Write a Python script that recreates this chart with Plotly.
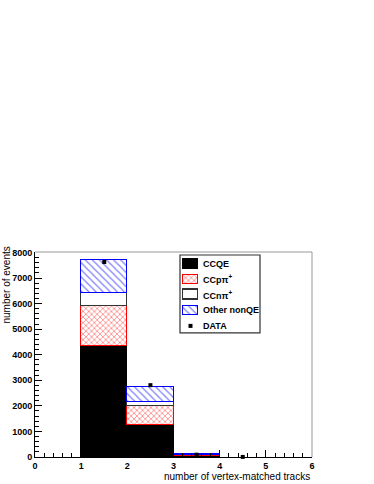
import plotly.graph_objects as go

mc_bin_centers = [1.5, 2.5, 3.5]
ccqe = [4350, 1260, 20]
ccppi = [1540, 740, 50]
ccnpi = [510, 150, 5]
other = [1300, 570, 55]

data_bin_centers = [1.5, 2.5, 3.5, 4.5]
data_vals = [7630, 2810, 90, 3]

x_ticks = [0, 1, 2, 3, 4, 5, 6]
y_ticks = [0, 1000, 2000, 3000, 4000, 5000, 6000, 7000, 8000]

legend_labels = ["CCQE", "CCpπ<sup>+</sup>", "CCnπ<sup>+</sup>", "Other nonQE", "DATA"]

FONT = "Liberation Sans"

# styles
ccqe_marker = dict(color="black", line=dict(color="black", width=1))
ccppi_marker = dict(color="white", line=dict(color="red", width=1.2),
                    pattern=dict(shape="x", fgcolor="red", bgcolor="white",
                                 size=4, solidity=0.35))
ccnpi_marker = dict(color="white", line=dict(color="#333333", width=1.5))
other_marker = dict(color="white", line=dict(color="blue", width=1.2),
                    pattern=dict(shape="\\", fgcolor="blue", bgcolor="white",
                                 size=5, solidity=0.25))
styles = [ccqe_marker, ccppi_marker, ccnpi_marker, other_marker]

fig = go.Figure()
for vals, st, name in zip([ccqe, ccppi, ccnpi, other], styles, legend_labels[:4]):
    fig.add_trace(go.Bar(x=mc_bin_centers, y=vals, width=1, name=name, marker=st,
                         showlegend=False))
fig.add_trace(go.Scatter(x=data_bin_centers, y=data_vals, mode="markers", name="DATA",
                         cliponaxis=False, showlegend=False,
                         marker=dict(symbol="square", size=4, color="black")))

# ---- hand-drawn legend (ROOT TLegend look) in its own small axes ----
L_W, L_H = 80, 78          # legend box size in px
row_step = 15.5
row0 = 9
sw_x, sw_w, sw_h = 10.5, 15.6, 9.5
for i, (st, name) in enumerate(zip(styles, legend_labels[:4])):
    cy = row0 + i * row_step
    fig.add_trace(go.Bar(x=[sw_x], y=[sw_h], base=[cy - sw_h / 2], width=[sw_w],
                         marker=st, xaxis="x2", yaxis="y2", showlegend=False,
                         hoverinfo="skip"))
fig.add_trace(go.Scatter(x=[sw_x], y=[row0 + 4 * row_step], mode="markers",
                         xaxis="x2", yaxis="y2", showlegend=False, hoverinfo="skip",
                         marker=dict(symbol="square", size=4, color="black")))

ann = []
for i, name in enumerate(legend_labels):
    ann.append(dict(text=name, xref="x2", yref="y2", x=20.5, y=row0 + i * row_step,
                    xanchor="left", yanchor="middle", showarrow=False,
                    font=dict(family=FONT, size=9, weight="bold")))

ann += [
    dict(text="number of vertex-matched tracks", xref="paper", yref="paper",
         x=1, y=0, xanchor="right", yanchor="middle", yshift=-19,
         showarrow=False, font=dict(family=FONT, size=10)),
    dict(text="number of events", xref="paper", yref="paper", textangle=-90,
         x=0, y=1, xanchor="center", yanchor="top", xshift=-29, yshift=7,
         showarrow=False, font=dict(family=FONT, size=10)),
]

# plot-area geometry
PL, PR, PT, PB = 35, 312, 252, 457.3
PW, PH = PR - PL, PB - PT
lx0, ly0 = 180, 255
dom_x = [(lx0 - PL) / PW, (lx0 + L_W - PL) / PW]
dom_y = [(PB - (ly0 + L_H)) / PH, (PB - ly0) / PH]

fig.update_layout(
    width=374, height=484,
    barmode="stack", bargap=0,
    paper_bgcolor="white", plot_bgcolor="white",
    margin=dict(l=PL, r=374 - PR, t=PT, b=484 - PB),
    font=dict(family=FONT, color="black", size=9),
    showlegend=False,
    xaxis=dict(range=[0, 6], tickvals=x_ticks, ticks="inside", ticklen=7, tickwidth=1,
               tickcolor="black", showline=True, linecolor="black", linewidth=1,
               showgrid=False, zeroline=False, automargin=False,
               tickfont=dict(family=FONT, size=9, weight="bold"),
               minor=dict(dtick=0.2, ticks="inside", ticklen=4, tickcolor="black")),
    yaxis=dict(range=[0, 8020], tickvals=y_ticks, ticks="inside", ticklen=7, tickwidth=1,
               tickcolor="black", showline=True, linecolor="black", linewidth=1,
               showgrid=False, zeroline=False, automargin=False,
               tickfont=dict(family=FONT, size=9, weight="bold"),
               minor=dict(dtick=200, ticks="inside", ticklen=4, tickcolor="black")),
    xaxis2=dict(domain=dom_x, range=[0, L_W], visible=False, anchor="y2",
                fixedrange=True),
    yaxis2=dict(domain=dom_y, range=[L_H, 0], visible=False, anchor="x2",
                fixedrange=True),
    shapes=[
        dict(type="line", xref="paper", yref="paper", x0=0, x1=1, y0=1, y1=1,
             line=dict(color="#999999", width=1)),
        dict(type="line", xref="paper", yref="paper", x0=1, x1=1, y0=0, y1=1,
             line=dict(color="#999999", width=1)),
        dict(type="rect", xref="x2 domain", yref="y2 domain", x0=0, x1=1, y0=0, y1=1,
             line=dict(color="#333333", width=1.2), layer="above"),
    ],
    annotations=ann,
)

fig.write_html("out.html", config={"displayModeBar": False},
               post_script="document.body.style.margin='0px';document.body.style.padding='0px';")
